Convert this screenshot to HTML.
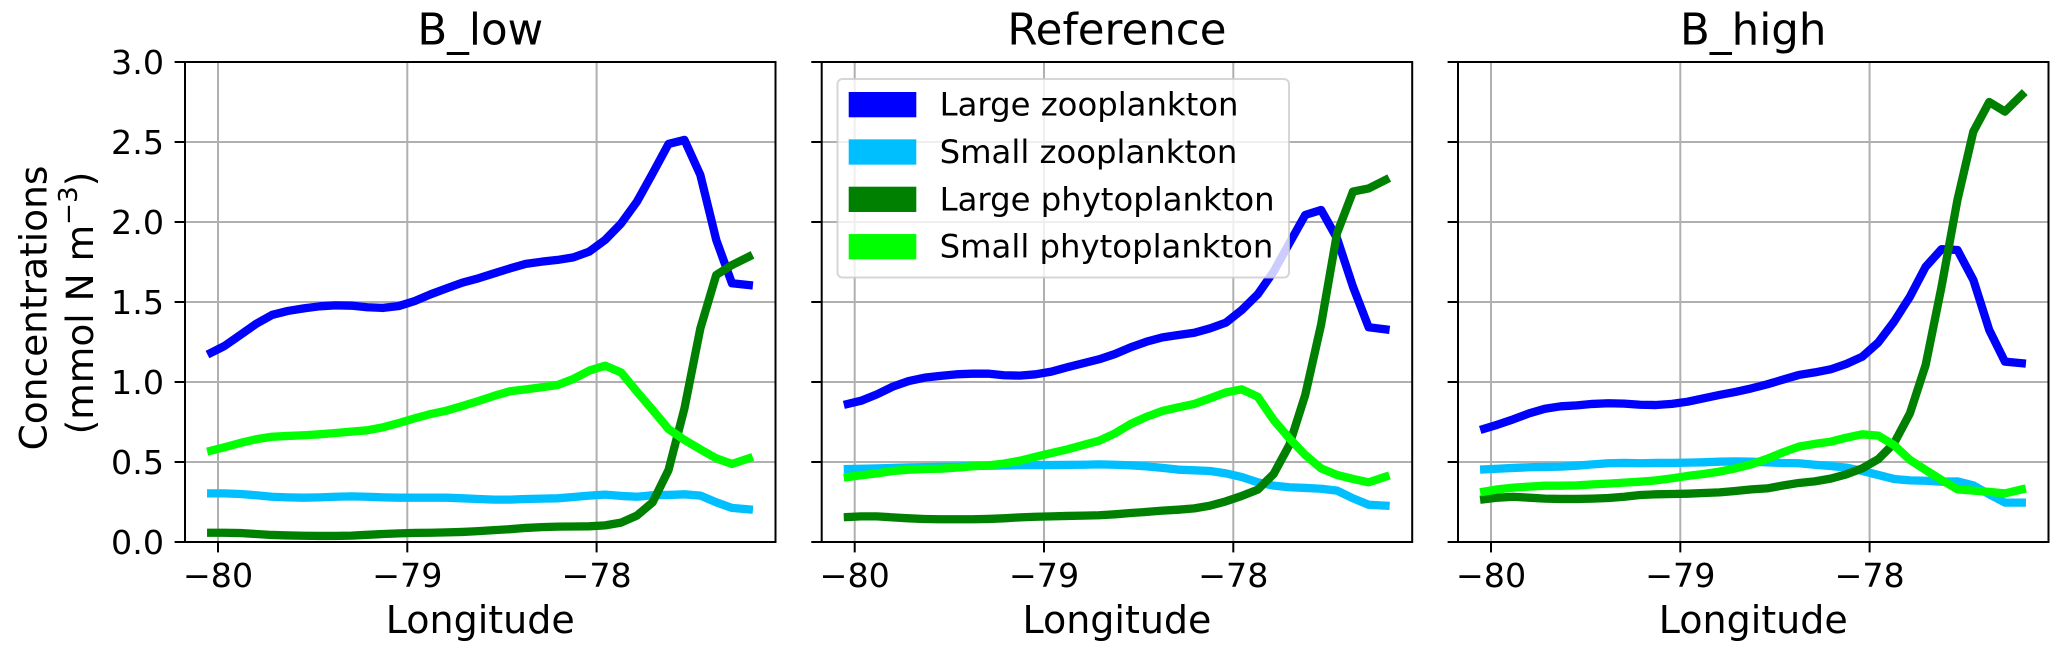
<!DOCTYPE html>
<html lang="en">
<head>
<meta charset="utf-8">
<title>Plankton concentrations by longitude</title>
<style>
html,body{margin:0;padding:0;background:#fff;}
svg{display:block;}
text{font-family:"DejaVu Sans","Liberation Sans",sans-serif;fill:#000;}
</style>
</head>
<body>
<svg id="chart" xmlns="http://www.w3.org/2000/svg" width="2067" height="654" viewBox="0 0 2067 654">
<rect x="0" y="0" width="2067" height="654" fill="#ffffff"></rect>
</svg>
<script>
// ---------- chart data ----------
const longitudes = [-80.036,-79.966,-79.882,-79.799,-79.715,-79.631,-79.547,-79.463,-79.380,-79.296,-79.212,-79.128,-79.044,-78.961,-78.877,-78.793,-78.709,-78.625,-78.542,-78.458,-78.374,-78.290,-78.206,-78.123,-78.039,-77.955,-77.871,-77.787,-77.704,-77.620,-77.536,-77.452,-77.368,-77.285,-77.196];

const bLowLargeZoo = [1.183,1.225,1.294,1.363,1.419,1.444,1.46,1.473,1.479,1.477,1.467,1.463,1.475,1.506,1.548,1.585,1.621,1.648,1.679,1.71,1.738,1.752,1.763,1.779,1.815,1.888,1.99,2.127,2.304,2.488,2.513,2.294,1.888,1.617,1.606];
const bLowSmallZoo = [0.304,0.304,0.3,0.292,0.283,0.279,0.277,0.279,0.283,0.285,0.283,0.279,0.277,0.277,0.277,0.277,0.273,0.269,0.265,0.265,0.269,0.271,0.273,0.281,0.29,0.296,0.288,0.283,0.292,0.294,0.298,0.29,0.248,0.213,0.204];
const bLowLargePhyto = [0.058,0.058,0.056,0.05,0.044,0.041,0.039,0.038,0.038,0.04,0.045,0.05,0.054,0.057,0.058,0.06,0.063,0.068,0.074,0.08,0.088,0.093,0.096,0.097,0.098,0.104,0.121,0.165,0.248,0.45,0.835,1.335,1.669,1.731,1.783];
const bLowSmallPhyto = [0.571,0.592,0.619,0.642,0.658,0.663,0.667,0.673,0.681,0.69,0.698,0.717,0.744,0.773,0.8,0.821,0.85,0.881,0.913,0.942,0.954,0.967,0.981,1.019,1.071,1.102,1.06,0.94,0.825,0.706,0.638,0.579,0.523,0.488,0.523];

const refLargeZoo = [0.863,0.883,0.923,0.971,1.006,1.027,1.038,1.048,1.052,1.052,1.042,1.04,1.048,1.065,1.092,1.117,1.142,1.175,1.217,1.252,1.279,1.294,1.308,1.335,1.371,1.45,1.548,1.69,1.867,2.044,2.075,1.898,1.596,1.342,1.329];
const refSmallZoo = [0.456,0.458,0.46,0.463,0.466,0.468,0.47,0.472,0.475,0.477,0.478,0.48,0.481,0.481,0.482,0.483,0.485,0.483,0.479,0.473,0.463,0.452,0.448,0.444,0.429,0.406,0.373,0.352,0.342,0.338,0.333,0.321,0.273,0.233,0.227];
const refLargePhyto = [0.156,0.16,0.16,0.154,0.148,0.144,0.142,0.142,0.142,0.144,0.148,0.154,0.158,0.16,0.163,0.165,0.167,0.173,0.181,0.188,0.196,0.202,0.21,0.227,0.254,0.288,0.327,0.425,0.606,0.919,1.36,1.93,2.19,2.21,2.263];
const refSmallPhyto = [0.406,0.417,0.429,0.444,0.452,0.456,0.458,0.465,0.473,0.479,0.49,0.508,0.533,0.556,0.579,0.606,0.633,0.679,0.738,0.783,0.819,0.842,0.863,0.898,0.935,0.954,0.908,0.763,0.648,0.544,0.46,0.419,0.394,0.373,0.408];

const bHighLargeZoo = [0.708,0.733,0.767,0.804,0.833,0.848,0.854,0.863,0.867,0.865,0.858,0.856,0.863,0.877,0.898,0.919,0.938,0.96,0.985,1.015,1.044,1.06,1.079,1.113,1.158,1.246,1.377,1.533,1.72,1.83,1.825,1.638,1.325,1.127,1.117];
const bHighSmallZoo = [0.454,0.458,0.463,0.467,0.469,0.471,0.477,0.485,0.492,0.494,0.492,0.494,0.494,0.496,0.498,0.502,0.504,0.502,0.498,0.494,0.492,0.483,0.475,0.465,0.444,0.419,0.394,0.385,0.383,0.377,0.379,0.354,0.298,0.246,0.246];
const bHighLargePhyto = [0.267,0.277,0.283,0.277,0.271,0.269,0.269,0.271,0.275,0.283,0.294,0.298,0.3,0.302,0.306,0.31,0.319,0.329,0.335,0.353,0.369,0.379,0.396,0.423,0.46,0.517,0.617,0.804,1.106,1.596,2.138,2.565,2.75,2.69,2.794];
const bHighSmallPhyto = [0.315,0.329,0.34,0.346,0.352,0.352,0.354,0.36,0.365,0.371,0.377,0.385,0.398,0.413,0.425,0.44,0.46,0.485,0.52,0.56,0.596,0.613,0.627,0.652,0.673,0.665,0.606,0.513,0.45,0.388,0.329,0.321,0.313,0.304,0.329];

const xTickValues = [-80,-79,-78];
const xTickLabels = ['\u221280','\u221279','\u221278'];
const yTickValues = [0,0.5,1,1.5,2,2.5,3];
const yTickLabels = ['0.0','0.5','1.0','1.5','2.0','2.5','3.0'];
const seriesNames = ['Large zooplankton','Small zooplankton','Large phytoplankton','Small phytoplankton'];
const panelTitles = ['B_low','Reference','B_high'];

// ---------- layout ----------
const NS = 'http://www.w3.org/2000/svg';
const svg = document.getElementById('chart');
const seriesColors = ['#0000ff','#00bfff','#008000','#00ff00'];
const panelSeries = [
  [bLowLargeZoo,bLowSmallZoo,bLowLargePhyto,bLowSmallPhyto],
  [refLargeZoo,refSmallZoo,refLargePhyto,refSmallPhyto],
  [bHighLargeZoo,bHighSmallZoo,bHighLargePhyto,bHighSmallPhyto]
];
const panelLefts = [185,821.7,1458];
const panelWidth = 590.5, plotTop = 62, plotBottom = 542;
const pxPerDegree = 189.3, x80Offset = 33, pxPerUnit = 160;

function xScale(lon, left){ return left + x80Offset + (lon + 80) * pxPerDegree; }
function yScale(v){ return plotBottom - v * pxPerUnit; }

function add(parent, tag, attrs, name, text){
  const el = document.createElementNS(NS, tag);
  for (const k in attrs) el.setAttribute(k, attrs[k]);
  
  
  if (text !== undefined) el.textContent = text;
  parent.appendChild(el);
  return el;
}

panelTitles.forEach(function(title, p){
  const left = panelLefts[p], right = left + panelWidth;
  const key = title.toLowerCase().replace('_','-');
  const g = add(svg, 'g', {}, 'panel-' + key);

  add(g, 'text', {x:left+panelWidth/2, y:44.5, 'text-anchor':'middle', 'font-size':43.5}, 'panel-title', title);

  // grid
  xTickValues.forEach(function(v){
    const x = xScale(v,left);
    add(g,'line',{x1:x,x2:x,y1:plotTop,y2:plotBottom,stroke:'#b0b0b0','stroke-width':2},'x-gridline');
  });
  yTickValues.forEach(function(v){
    const y = yScale(v);
    add(g,'line',{x1:left,x2:right,y1:y,y2:y,stroke:'#b0b0b0','stroke-width':2},'y-gridline');
  });

  // series
  const clipId = 'clip-' + p;
  const clip = add(g,'clipPath',{id:clipId},'plot-clip');
  add(clip,'rect',{x:left,y:plotTop,width:panelWidth,height:plotBottom-plotTop},'plot-clip-rect');
  panelSeries[p].forEach(function(values, s){
    const pts = values.map(function(v,i){ return xScale(longitudes[i],left).toFixed(2)+','+yScale(v).toFixed(2); }).join(' ');
    add(g,'polyline',{points:pts,fill:'none',stroke:seriesColors[s],'stroke-width':8.3,'stroke-linejoin':'round','stroke-linecap':'square','clip-path':'url(#'+clipId+')'},
      'line-' + seriesNames[s].toLowerCase().replace(' ','-'));
  });

  // ticks and tick labels
  xTickValues.forEach(function(v,i){
    const x = xScale(v,left);
    add(g,'line',{x1:x,x2:x,y1:plotBottom,y2:plotBottom+10.4,stroke:'#000','stroke-width':2},'x-tick');
    add(g,'text',{x:x,y:587,'text-anchor':'middle','font-size':33.3},'x-tick-label',xTickLabels[i]);
  });
  yTickValues.forEach(function(v,i){
    const y = yScale(v);
    add(g,'line',{x1:left-10.4,x2:left,y1:y,y2:y,stroke:'#000','stroke-width':2},'y-tick');
    if (p === 0) add(g,'text',{x:left-21,y:y+12,'text-anchor':'end','font-size':33.3},'y-tick-label',yTickLabels[i]);
  });

  // spines
  add(g,'rect',{x:left,y:plotTop,width:panelWidth,height:plotBottom-plotTop,fill:'none',stroke:'#000','stroke-width':2},'axes-frame');

  add(g,'text',{x:left+panelWidth/2,y:633,'text-anchor':'middle','font-size':38},'x-axis-title','Longitude');
});

// y-axis title
const yTitle = add(svg,'g',{},'y-axis-title');
add(yTitle,'text',{transform:'translate(46.7,308) rotate(-90)','text-anchor':'middle','font-size':37.5},'y-axis-title-line-1','Concentrations');
const yLine2 = add(yTitle,'text',{transform:'translate(93,303) rotate(-90)','text-anchor':'middle','font-size':37.5},'y-axis-title-line-2','(mmol N m');
add(yLine2,'tspan',{dy:-16,'font-size':26.2},'y-axis-title-exponent','\u22123');
add(yLine2,'tspan',{dy:16},'y-axis-title-close',')');

// legend
const legend = add(svg,'g',{},'legend');
add(legend,'rect',{x:837.5,y:79,width:451.5,height:198.5,rx:5,ry:5,fill:'#ffffff','fill-opacity':0.8,stroke:'#cccccc','stroke-opacity':0.8,'stroke-width':2},'legend-frame');
const legendRowTop = 92, legendRowStep = 47.35;
seriesNames.forEach(function(name,i){
  const y = legendRowTop + i*legendRowStep;
  const key = name.toLowerCase().replace(' ','-');
  add(legend,'rect',{x:848.7,y:y,width:67.6,height:25.3,fill:seriesColors[i]},'legend-swatch-'+key);
  add(legend,'text',{x:939.6,y:y+23.6,'font-size':32.3},'legend-label-'+key,name);
});
</script>
</body>
</html>
